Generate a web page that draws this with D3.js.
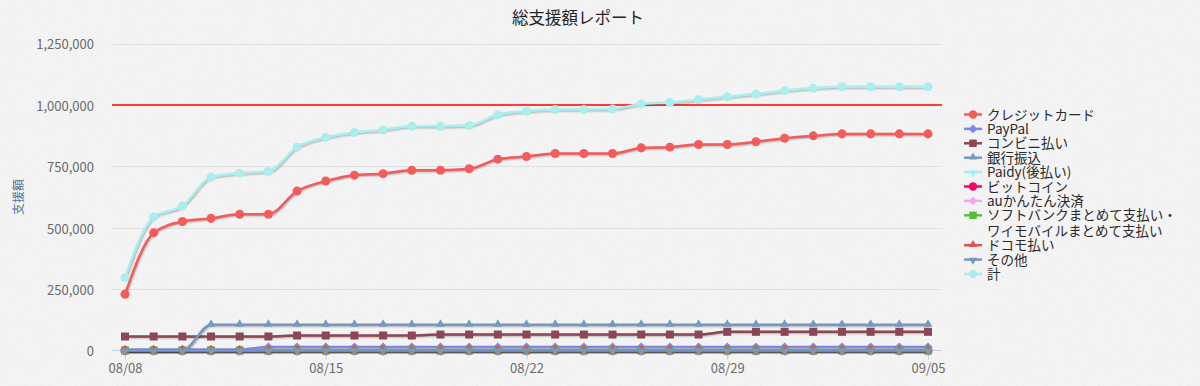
<!DOCTYPE html>
<html>
<head>
<meta charset="utf-8">
<script src="https://cdn.jsdelivr.net/npm/d3@7"></script>
<style>
  html, body { margin: 0; padding: 0; background: #f3f3f3; }
  svg text { font-family: "Noto Sans CJK JP", "Noto Sans", sans-serif; }
</style>
</head>
<body>
<div id="chart"></div>
<script>
// dates (one point per day)
const days = ["2019-08-08","2019-08-09","2019-08-10","2019-08-11","2019-08-12","2019-08-13","2019-08-14",
  "2019-08-15","2019-08-16","2019-08-17","2019-08-18","2019-08-19","2019-08-20","2019-08-21",
  "2019-08-22","2019-08-23","2019-08-24","2019-08-25","2019-08-26","2019-08-27","2019-08-28",
  "2019-08-29","2019-08-30","2019-08-31","2019-09-01","2019-09-02","2019-09-03","2019-09-04","2019-09-05"];
const tickDays = ["2019-08-08","2019-08-15","2019-08-22","2019-08-29","2019-09-05"];
const yTicks = [0, 250000, 500000, 750000, 1000000, 1250000];
const goal = 1000000;

const credit  = [229000,479000,525000,538000,555000,555000,649000,690000,714000,720000,734000,734000,740000,779000,
  790000,802000,802000,802000,825000,828000,839000,839000,850000,864000,874000,882000,882000,882000,882000];
const paypal  = [4000,4000,4000,4000,4000,14000,14000,14000,14000,14000,14000,14000,14000,14000,
  14000,14000,14000,14000,14000,14000,14000,14000,14000,14000,14000,14000,14000,14000,14000];
const konbini = [57000,57000,57000,57000,57000,57000,61000,61000,61000,61000,61000,65000,65000,65000,
  65000,65000,65000,65000,65000,65000,65000,76000,76000,76000,76000,76000,76000,76000,76000];
const bank    = [0,0,0,105000,105000,105000,105000,105000,105000,105000,105000,105000,105000,105000,
  105000,105000,105000,105000,105000,105000,105000,105000,105000,105000,105000,105000,105000,105000,105000];
const paidy   = [0,0,0,0,0,0,0,0,0,0,0,0,0,0,0,0,0,0,0,0,0,0,0,0,0,0,0,0,0];
const bitcoin = [0,0,0,0,0,0,0,0,0,0,0,0,0,0,0,0,0,0,0,0,0,0,0,0,0,0,0,0,0];
const au      = [0,0,0,0,0,0,0,0,0,0,0,0,0,0,0,0,0,0,0,0,0,0,0,0,0,0,0,0,0];
const softbank= [0,0,0,0,0,0,0,0,0,0,0,0,0,0,0,0,0,0,0,0,0,0,0,0,0,0,0,0,0];
const docomo  = [0,0,0,0,0,0,0,0,0,0,0,0,0,0,0,0,0,0,0,0,0,0,0,0,0,0,0,0,0];
const other   = [0,0,0,0,0,0,0,0,0,0,0,0,0,0,0,0,0,0,0,0,0,0,0,0,0,0,0,0,0];
const total   = [296000,544000,588000,706000,722000,729000,828000,868000,888000,898000,913000,913000,916000,960000,
  974000,981000,981000,983000,1004000,1010000,1021000,1033000,1044000,1058000,1068000,1074000,1074000,1074000,1074000];

const seriesNames = ["クレジットカード","PayPal","コンビニ払い","銀行振込","Paidy(後払い)","ビットコイン",
  "auかんたん決済","ソフトバンクまとめて支払い・\nワイモバイルまとめて支払い","ドコモ払い","その他","計"];
const seriesValues = [credit, paypal, konbini, bank, paidy, bitcoin, au, softbank, docomo, other, total];
const colors = ["#f45b5b","#8085e9","#8d4654","#7798BF","#aaeeee","#ff0066","#eeaaee","#55BF3B","#DF5353","#7798BF","#aaeeee"];
const symbols = ["circle","diamond","square","triangle","triangle-down","circle","diamond","square","triangle","triangle-down","circle"];

const width = 1200, height = 386;
const plotLeft = 112, plotRight = 942, plotTop = 43.5, plotBottom = 350.5;

const parse = d3.timeParse("%Y-%m-%d");
const dates = days.map(parse);

const svg = d3.select("#chart").append("svg")
  .attr("width", width).attr("height", height);

// sandy background
const defs = svg.append("defs");
const noise = defs.append("filter").attr("id", "noise");
noise.append("feTurbulence").attr("type", "fractalNoise").attr("baseFrequency", 0.9).attr("numOctaves", 2).attr("seed", 3);
noise.append("feColorMatrix").attr("type", "matrix")
  .attr("values", "0 0 0 0 0  0 0 0 0 0  0 0 0 0 0  0 0 0 -1.4 0.75");
svg.append("rect").attr("width", width).attr("height", height).attr("fill", "#f4f4f4");
svg.append("rect").attr("width", width).attr("height", height).attr("filter", "url(#noise)").attr("opacity", 0.05);

const x = d3.scaleTime().domain(d3.extent(dates)).range([125, 928]);
const y = d3.scaleLinear().domain([0, 1250000]).range([plotBottom, plotTop]);

// title
svg.append("text")
  .attr("x", 578).attr("y", 24)
  .attr("text-anchor", "middle")
  .attr("font-size", 16.5)
  .attr("fill", "#222")
  .text("総支援額レポート");

// grid
svg.append("g").selectAll("line")
  .data(yTicks.filter(d => d > 0))
  .enter().append("line")
  .attr("x1", plotLeft).attr("x2", plotRight)
  .attr("y1", d => Math.round(y(d)) + 0.5).attr("y2", d => Math.round(y(d)) + 0.5)
  .attr("stroke", "#e0e0e0").attr("stroke-width", 1);

// y axis
const yAxis = svg.append("g")
  .attr("transform", `translate(${plotLeft},0)`)
  .call(d3.axisLeft(y).tickValues(yTicks).tickFormat(d3.format(",")).tickSize(0).tickPadding(18));
yAxis.select(".domain").remove();
yAxis.selectAll("text").attr("font-size", 13).attr("fill", "#6a6a6a")
  .attr("font-family", "'Noto Sans CJK JP', sans-serif").attr("dy", "0.42em");

svg.append("text")
  .attr("transform", `translate(23,${(plotTop + plotBottom) / 2}) rotate(-90)`)
  .attr("text-anchor", "middle")
  .attr("font-size", 12)
  .attr("fill", "#4d759e")
  .text("支援額");

// x axis
const xAxis = svg.append("g")
  .attr("transform", `translate(0,${plotBottom})`)
  .call(d3.axisBottom(x).tickValues(tickDays.map(parse)).tickFormat(d3.timeFormat("%m/%d")).tickSize(9).tickPadding(4));
xAxis.select(".domain").remove();
xAxis.selectAll("line").attr("stroke", "#C0D0E0");
xAxis.selectAll("text").attr("font-size", 13).attr("fill", "#6a6a6a")
  .attr("font-family", "'Noto Sans CJK JP', sans-serif");
svg.append("line")
  .attr("x1", plotLeft).attr("x2", plotRight)
  .attr("y1", plotBottom).attr("y2", plotBottom)
  .attr("stroke", "#C0D0E0").attr("stroke-width", 1);

// goal line
svg.append("line")
  .attr("x1", plotLeft).attr("x2", plotRight)
  .attr("y1", y(goal)).attr("y2", y(goal))
  .attr("stroke", "#ff3838").attr("stroke-width", 2);

function markerPath(type, size) {
  if (type === "circle") return d3.symbol(d3.symbolCircle, size)();
  if (type === "diamond") return d3.symbol(d3.symbolDiamond2, size * 0.85)();
  if (type === "square") return d3.symbol(d3.symbolSquare, size)();
  return d3.symbol(d3.symbolTriangle2, size * 0.85)();
}
function markerTransform(type, cx, cy) {
  if (type === "triangle-down") return `translate(${cx},${cy + 0.5}) rotate(180)`;
  if (type === "triangle") return `translate(${cx},${cy - 0.5})`;
  return `translate(${cx},${cy})`;
}

const line = d3.line()
  .x((d, i) => x(dates[i]))
  .y(d => y(d))
  .curve(d3.curveMonotoneX);

const plot = svg.append("g");
seriesValues.forEach((vals, s) => {
  const g = plot.append("g");
  // shadow
  [[5, 0.05], [3, 0.1], [1, 0.15]].forEach(([w, o]) => {
    g.append("path").datum(vals)
      .attr("d", line)
      .attr("transform", "translate(1,1)")
      .attr("fill", "none")
      .attr("stroke", "#000").attr("stroke-opacity", o).attr("stroke-width", w);
  });
  g.append("path").datum(vals)
    .attr("d", line)
    .attr("fill", "none")
    .attr("stroke", colors[s]).attr("stroke-width", 2.5);
  g.selectAll("path.marker").data(vals).enter().append("path")
    .attr("class", "marker")
    .attr("d", markerPath(symbols[s], 64))
    .attr("transform", (d, i) => markerTransform(symbols[s], x(dates[i]), y(d)))
    .attr("fill", colors[s]);
});

// legend
const legend = svg.append("g");
let ly = 114.5;
seriesNames.forEach((name, s) => {
  const g = legend.append("g").attr("transform", `translate(0,${ly})`);
  g.append("line").attr("x1", 964).attr("x2", 982).attr("y1", 0).attr("y2", 0)
    .attr("stroke", colors[s]).attr("stroke-width", 2.5);
  g.append("path").attr("d", markerPath(symbols[s], 56))
    .attr("transform", markerTransform(symbols[s], 973, 0))
    .attr("fill", colors[s]);
  const lines = name.split("\n");
  const t = g.append("text").attr("x", 987).attr("y", 5)
    .attr("font-size", 13.5).attr("fill", "#2a2a2a");
  lines.forEach((l, k) => {
    t.append("tspan").attr("x", 987).attr("dy", k === 0 ? 0 : 15.5).text(l);
  });
  ly += 14.4 + (lines.length - 1) * 15.5;
});
</script>
</body>
</html>
